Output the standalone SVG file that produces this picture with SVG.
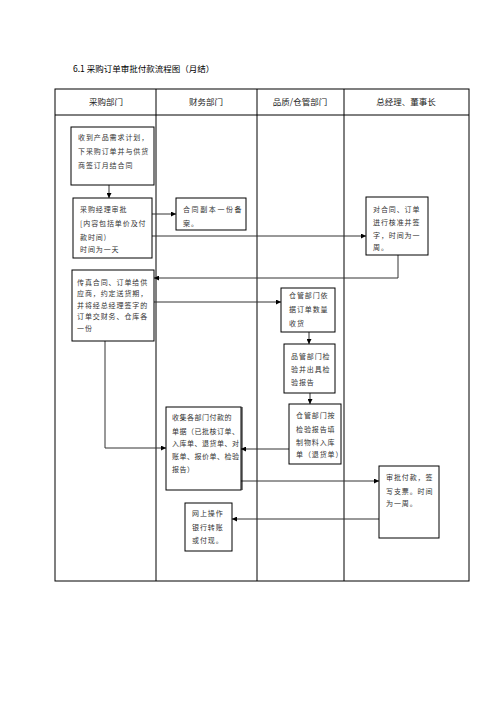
<svg xmlns="http://www.w3.org/2000/svg" width="496" height="702" viewBox="0 0 496 702">
<style>
.tbl{fill:none;stroke:#000;stroke-width:1}
.box{fill:#fff;stroke:#000;stroke-width:1}
.con{fill:none;stroke:#333;stroke-width:1}
.t{font-family:"Noto Sans CJK SC","Liberation Serif",serif;font-size:7px;fill:#333;letter-spacing:0.9px}
.h{font-family:"Noto Sans CJK SC","Liberation Sans",sans-serif;font-size:8.5px;fill:#222;text-anchor:middle}
.title{font-family:"Noto Sans CJK SC","Liberation Sans",sans-serif;font-size:8.5px;fill:#000}
</style>
<defs>
<marker id="ah" markerWidth="5" markerHeight="5" refX="5" refY="2.5" orient="auto" markerUnits="userSpaceOnUse">
<path d="M0,0 L5,2.5 L0,5 Z" fill="#000"/>
</marker>
</defs>
<rect width="496" height="702" fill="#fff"/>
<text class="title" x="73" y="72">6.1 采购订单审批付款流程图（月结）</text>
<g id="table">
<rect class="tbl" x="55" y="89" width="414" height="492"/>
<line class="tbl" x1="55" y1="115" x2="469" y2="115"/>
<line class="tbl" x1="156" y1="89" x2="156" y2="581"/>
<line class="tbl" x1="257" y1="89" x2="257" y2="581"/>
<line class="tbl" x1="344" y1="89" x2="344" y2="581"/>
<text class="h" x="106" y="105">采购部门</text>
<text class="h" x="206" y="105">财务部门</text>
<text class="h" x="300" y="105">品质/仓管部门</text>
<text class="h" x="406" y="105">总经理、董事长</text>
</g>
<g id="connectors">
<line class="con" x1="109" y1="185" x2="109" y2="198" marker-end="url(#ah)"/>
<line class="con" x1="152" y1="214" x2="176" y2="214" marker-end="url(#ah)"/>
<line class="con" x1="152" y1="236" x2="366" y2="236" marker-end="url(#ah)"/>
<polyline class="con" points="398,255 398,278 154,278" marker-end="url(#ah)"/>
<line class="con" x1="154" y1="302" x2="281" y2="302" marker-end="url(#ah)"/>
<line class="con" x1="309" y1="332" x2="309" y2="344" marker-end="url(#ah)"/>
<line class="con" x1="310" y1="393" x2="310" y2="404" marker-end="url(#ah)"/>
<line class="con" x1="289" y1="449" x2="241" y2="449" marker-end="url(#ah)"/>
<polyline class="con" points="105,341 105,448 166,448" marker-end="url(#ah)"/>
<line class="con" x1="241" y1="481" x2="379" y2="481" marker-end="url(#ah)"/>
<line class="con" x1="379" y1="519" x2="232" y2="519" marker-end="url(#ah)"/>
</g>
<g id="n1">
<rect class="box" x="71" y="127" width="83" height="58"/>
<text class="t" x="78" y="140">收到产品需求计划，</text>
<text class="t" x="78" y="154">下采购订单并与供货</text>
<text class="t" x="78" y="168">商签订月结合同</text>
</g>
<g id="n2">
<rect class="box" x="73" y="198" width="79" height="60"/>
<text class="t" x="80" y="212">采购经理审批</text>
<text class="t" x="80" y="226">[内容包括单价及付</text>
<text class="t" x="80" y="240">款时间)</text>
<text class="t" x="80" y="252">时间为一天</text>
</g>
<g id="n3">
<rect class="box" x="176" y="198" width="70" height="32"/>
<text class="t" x="183" y="212" style="letter-spacing:1.6px">合同副本一份备</text>
<text class="t" x="183" y="226">案。</text>
</g>
<g id="n4">
<rect class="box" x="366" y="197" width="62" height="58"/>
<text class="t" x="373" y="212">对合同、订单</text>
<text class="t" x="373" y="225">进行核准并签</text>
<text class="t" x="373" y="238">字，时间为一</text>
<text class="t" x="373" y="250">周。</text>
</g>
<g id="n5">
<rect class="box" x="72" y="270" width="82" height="71"/>
<text class="t" x="77" y="285">传真合同、订单给供</text>
<text class="t" x="77" y="296">应商，约定送货期，</text>
<text class="t" x="77" y="308">并将经总经理签字的</text>
<text class="t" x="77" y="319">订单交财务、仓库各</text>
<text class="t" x="77" y="331">一份</text>
</g>
<g id="n6">
<rect class="box" x="281" y="288" width="54" height="44"/>
<text class="t" x="289" y="298">仓管部门依</text>
<text class="t" x="289" y="312">据订单数量</text>
<text class="t" x="289" y="326">收货</text>
</g>
<g id="n7">
<rect class="box" x="284" y="344" width="51" height="49"/>
<text class="t" x="291" y="359">品管部门检</text>
<text class="t" x="291" y="372">验并出具检</text>
<text class="t" x="291" y="385">验报告</text>
</g>
<g id="n8">
<rect class="box" x="289" y="404" width="52" height="60"/>
<text class="t" x="296" y="418">仓管部门按</text>
<text class="t" x="296" y="432">检验报告填</text>
<text class="t" x="296" y="445">制物料入库</text>
<text class="t" x="296" y="457">单（退货单）</text>
</g>
<g id="n9">
<rect class="box" x="166" y="407" width="75" height="83"/>
<line x1="242" y1="407" x2="242" y2="490" stroke="#000" stroke-width="1"/>
<text class="t" x="172" y="420" style="letter-spacing:0.5px">收集各部门付款的</text>
<text class="t" x="172" y="434" style="letter-spacing:0.5px">单据（已批核订单、</text>
<text class="t" x="172" y="446" style="letter-spacing:0.5px">入库单、退货单、对</text>
<text class="t" x="172" y="459" style="letter-spacing:0.5px">账单、报价单、检验</text>
<text class="t" x="172" y="472" style="letter-spacing:0.5px">报告）</text>
</g>
<g id="n10">
<rect class="box" x="379" y="466" width="60" height="72"/>
<text class="t" x="386" y="480">审批付款，签</text>
<text class="t" x="386" y="494">写支票。时间</text>
<text class="t" x="386" y="506">为一周。</text>
</g>
<g id="n11">
<rect class="box" x="185" y="503" width="47" height="48"/>
<text class="t" x="192" y="516">网上操作</text>
<text class="t" x="192" y="530">银行转账</text>
<text class="t" x="192" y="543">或付现。</text>
</g>
</svg>
